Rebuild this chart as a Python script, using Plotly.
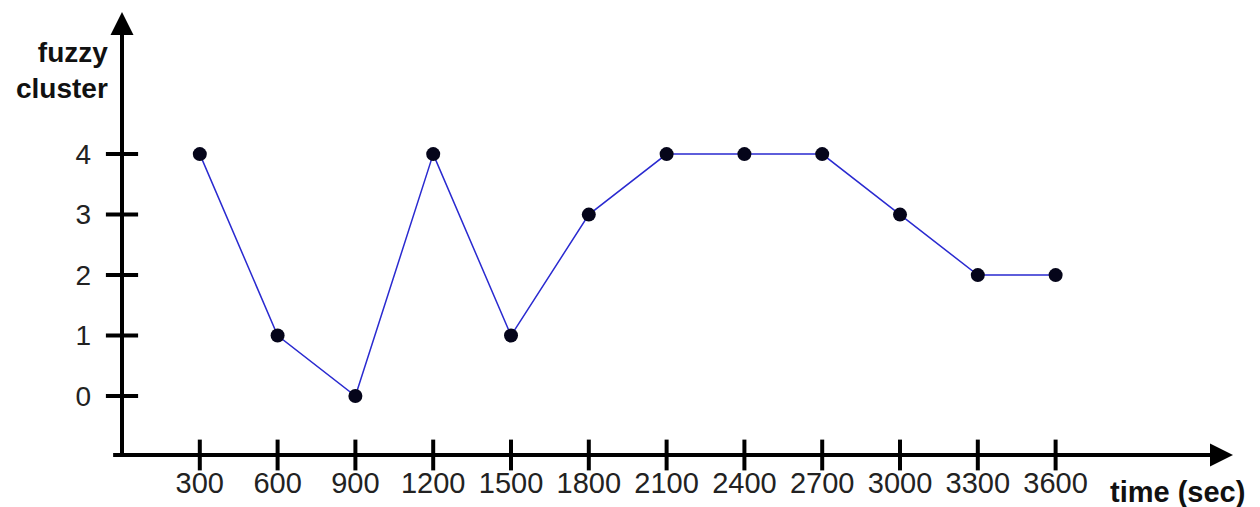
import plotly.graph_objects as go

# Data
time_sec = [300, 600, 900, 1200, 1500, 1800, 2100, 2400, 2700, 3000, 3300, 3600]
fuzzy_cluster = [4, 1, 0, 4, 1, 3, 4, 4, 4, 3, 2, 2]
x_tick_labels = [str(t) for t in time_sec]
y_ticks = [0, 1, 2, 3, 4]

X_MIN, X_MAX = 0, 4284
Y_MIN, Y_MAX = -0.975, 6.35

fig = go.Figure()

# data line
fig.add_trace(go.Scatter(
    x=time_sec, y=fuzzy_cluster, mode="lines+markers",
    line=dict(color="#2a2ad0", width=1.5),
    marker=dict(color="#05051a", size=14),
    cliponaxis=False, showlegend=False, hoverinfo="x+y"))

# y tick marks crossing the axis
fig.add_trace(go.Scatter(
    x=[0] * len(y_ticks), y=y_ticks, mode="markers",
    marker=dict(symbol="line-ew", size=23, line=dict(color="black", width=4)),
    cliponaxis=False, showlegend=False, hoverinfo="skip"))

# x tick marks crossing the axis
fig.add_trace(go.Scatter(
    x=time_sec, y=[Y_MIN] * len(time_sec), mode="markers",
    marker=dict(symbol="line-ns", size=22, line=dict(color="black", width=4)),
    cliponaxis=False, showlegend=False, hoverinfo="skip"))

# axes with arrows
fig.add_annotation(x=0, y=Y_MAX, ax=0, ay=Y_MIN - 0.03, xref="x", yref="y",
                   axref="x", ayref="y", showarrow=True, arrowhead=2,
                   arrowsize=1.15, arrowwidth=4, arrowcolor="black", text="",
                   standoff=0, startstandoff=0)
fig.add_annotation(x=X_MAX, y=Y_MIN, ax=-40, ay=Y_MIN, xref="x", yref="y",
                   axref="x", ayref="y", showarrow=True, arrowhead=2,
                   arrowsize=1.15, arrowwidth=4, arrowcolor="black", text="",
                   standoff=0, startstandoff=0)

# axis titles
fig.add_annotation(x=-12 / 1111, y=0.869, xref="paper", yref="paper",
                   text="<b>fuzzy<br>cluster</b>", showarrow=False,
                   xanchor="right", yanchor="middle", align="right",
                   font=dict(family="Liberation Sans, Arial", size=28, color="#111"))
fig.add_annotation(x=0.9496, y=-0.0835, xref="paper", yref="paper",
                   text="<b>time (sec)</b>", showarrow=False,
                   xanchor="center", yanchor="middle",
                   font=dict(family="Liberation Sans, Arial", size=29, color="#111"))

# page body has an 8px margin, so the figure is sized to fit the rest of the window
fig.update_layout(
    width=1252, height=499,
    margin=dict(l=114, r=27, t=4, b=52),
    paper_bgcolor="white", plot_bgcolor="white",
    xaxis=dict(range=[X_MIN, X_MAX], showgrid=False, zeroline=False, showline=False,
               automargin=False,
               tickvals=time_sec, ticktext=x_tick_labels, ticks="",
               ticklabelstandoff=8,
               tickfont=dict(family="Liberation Sans, Arial", size=29, color="#222")),
    yaxis=dict(range=[Y_MIN, Y_MAX], showgrid=False, zeroline=False, showline=False,
               automargin=False,
               tickvals=y_ticks, ticks="", ticklabelstandoff=30,
               tickfont=dict(family="Liberation Sans, Arial", size=28, color="#222")),
)

fig.write_html("out.html")
